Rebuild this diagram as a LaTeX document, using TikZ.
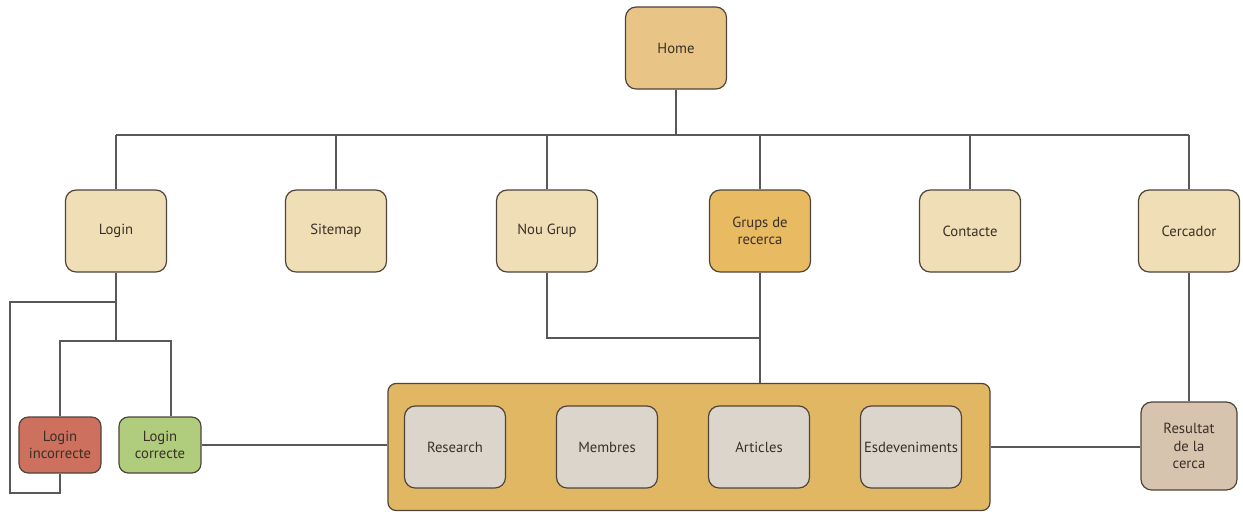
\documentclass[tikz,border=0pt]{standalone}
\usepackage{fontspec}
\setmainfont{PT Sans}
\usetikzlibrary{positioning}

\definecolor{homecol}{RGB}{232,196,134}
\definecolor{pagecol}{RGB}{240,222,182}
\definecolor{grupcol}{RGB}{232,186,98}
\definecolor{contcol}{RGB}{225,183,100}
\definecolor{subcol}{RGB}{219,213,204}
\definecolor{rescol}{RGB}{215,196,174}
\definecolor{badcol}{RGB}{205,112,94}
\definecolor{okcol}{RGB}{176,204,125}
\definecolor{edgecol}{RGB}{78,68,58}
\definecolor{linecol}{RGB}{88,88,88}
\definecolor{txtcol}{RGB}{58,48,40}

\begin{document}
\begin{tikzpicture}[%
        x=0.75pt, y=-0.75pt,
        box/.style={draw=edgecol, line width=0.9pt, rounded corners=8pt,
            minimum width=75.75pt, minimum height=61.5pt, inner sep=1pt,
            align=center, text=txtcol, font=\fontsize{11}{13}\selectfont},
        small/.style={box, minimum height=42pt, minimum width=61.5pt, rounded corners=7pt},
        link/.style={draw=linecol, line width=1pt}
        ]
        \useasboundingbox (0,0) rectangle (1243,511);

        \node[box, fill=homecol] (home) at (676,48) {Home};

        \node[box, fill=pagecol] (login) at (116,231) {Login};
        \node[box, fill=pagecol] (sitemap) at (336,231) {Sitemap};
        \node[box, fill=pagecol] (nougrup) at (547,231) {Nou Grup};
        \node[box, fill=grupcol] (grups) at (760,231) {Grups de\\recerca};
        \node[box, fill=pagecol] (contacte) at (970,231) {Contacte};
        \node[box, fill=pagecol] (cercador) at (1189,231) {Cercador};

        \node[small, fill=badcol] (incorr) at (60,445) {Login\\incorrecte};
        \node[small, fill=okcol] (corr) at (160,445) {Login\\correcte};

        % grups de recerca contents
        \node[draw=edgecol, line width=0.9pt, rounded corners=6pt, fill=contcol,
            minimum width=451.5pt, minimum height=95.25pt] (cont) at (689,447) {};
        \node[box, fill=subcol] (research) at (455,447) {Research};
        \node[box, fill=subcol] (membres) at (607,447) {Membres};
        \node[box, fill=subcol] (articles) at (759,447) {Articles};
        \node[box, fill=subcol] (esdev) at (911,447) {Esdeveniments};

        \node[box, fill=rescol, minimum width=72pt, minimum height=66pt] (result) at (1189,446) {Resultat\\de la\\cerca};

        % top level
        \coordinate (bus) at (0,135);
        \draw[link] (home) -- (home |- bus);
        \draw[link] (login |- bus) -- (cercador |- bus);
        \foreach \n in {login,sitemap,nougrup,grups,contacte,cercador}
            \draw[link] (\n |- bus) -- (\n);

        % login branches
        \coordinate (lloop) at (116,302);
        \coordinate (lsplit) at (116,341);
        \coordinate (cjoin) at (171,341);
        \coordinate (lbottom) at (10,493);
        \draw[link] (login) -- (lsplit);
        \draw[link] (incorr.north) |- (cjoin) -- (cjoin |- corr.north);
        \draw[link] (lloop) -| (lbottom) -| (incorr.south);
        \draw[link] (corr.east) -- (corr.east -| cont.west);

        % grups / nou grup
        \coordinate (gjoin) at (760,338);
        \draw[link] (grups) -- (grups |- cont.north);
        \draw[link] (nougrup) |- (gjoin);

        % cercador
        \draw[link] (cercador) -- (result);
        \draw[link] (cont.east) -- (cont.east -| result.west);
\end{tikzpicture}
\end{document}
